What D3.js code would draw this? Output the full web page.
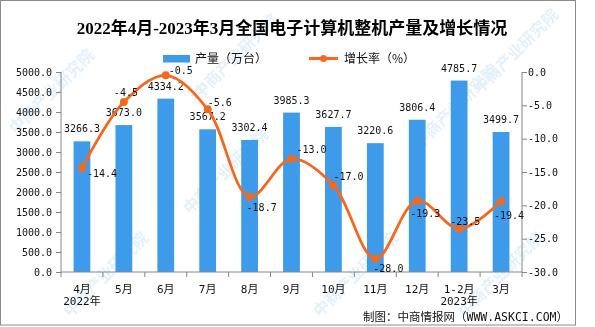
<!DOCTYPE html>
<html><head><meta charset="utf-8">
<script src="https://cdn.jsdelivr.net/npm/d3@7"></script>
<style>
html,body{margin:0;padding:0;background:#fff;}
svg{display:block;}
</style></head>
<body><svg id="c" width="595" height="327"></svg>
<script>
const categories = ["4月","5月","6月","7月","8月","9月","10月","11月","12月","1-2月","3月"];
const yearLabels = ["2022年","","","","","","","","","2023年",""];
const output = [3266.3,3673.0,4334.2,3567.2,3302.4,3985.3,3627.7,3220.6,3806.4,4785.7,3499.7];
const growth = [-14.4,-4.5,-0.5,-5.6,-18.7,-13.0,-17.0,-28.0,-19.3,-23.5,-19.4];
const leftTicks = [0,500,1000,1500,2000,2500,3000,3500,4000,4500,5000];
const rightTicks = [0,-5,-10,-15,-20,-25,-30];
// label offsets (layout only) for growth labels: [dx, dy]
const growthLabelOffsets = [[5,9],[-10,-6],[3,-1],[0,-3],[-3,14],[5,-6],[0,-5],[-2,13],[-7,16],[-9,-4],[-7,18]];

const svg = d3.select("#c");
const mono = "'DejaVu Sans Mono','Noto Sans CJK SC',monospace";
const cjk = "'Noto Sans CJK SC',sans-serif";

// frame
svg.append("rect").attr("x",0.5).attr("y",0.5).attr("width",575).attr("height",324.5)
  .attr("fill","#fff").attr("stroke","#8c8c8c").attr("stroke-width",1);

// watermarks (kept inside the frame)
const wm = svg.append("g").attr("fill","#9ec8ec").attr("opacity",0.28)
  .style("font-family",cjk).style("font-size","16px").style("font-weight","bold");
[[16,135],[70,318],[190,215],[320,318],[420,150],[200,100],[465,318],[480,95]].forEach(p=>{
  wm.append("text").attr("transform",`translate(${p[0]},${p[1]}) rotate(-45)`).text("中商产业研究院");
});

const x = d3.scaleBand().domain(categories).range([61,522]).padding(0);
const yL = d3.scaleLinear().domain([0,5000]).range([272,72]);
const yR = d3.scaleLinear().domain([-30,0]).range([272,72]);
const barW = x.bandwidth()*0.4;
const axisColor = "#868686";

// title
svg.append("text").attr("x",292).attr("y",34).attr("text-anchor","middle")
  .style("font-family","'Liberation Serif','Noto Sans CJK SC',serif").style("font-size","17px").style("font-weight","bold")
  .attr("fill","#000").text("2022年4月-2023年3月全国电子计算机整机产量及增长情况");

// legend
svg.append("rect").attr("x",163).attr("y",55).attr("width",27).attr("height",7.5).attr("fill","#3d9be9");
svg.append("text").attr("x",195).attr("y",63).style("font-family",cjk).style("font-size","12px").attr("fill","#111").text("产量（万台）");
svg.append("line").attr("x1",309).attr("x2",338).attr("y1",58.5).attr("y2",58.5).attr("stroke","#f5691f").attr("stroke-width",3);
svg.append("circle").attr("cx",323.5).attr("cy",58.5).attr("r",3.5).attr("fill","#f5691f");
svg.append("text").attr("x",344).attr("y",63).style("font-family",cjk).style("font-size","12px").attr("fill","#111").text("增长率（%）");

// bars
svg.append("g").selectAll("rect").data(output).join("rect")
  .attr("x",(d,i)=>x(categories[i])+x.bandwidth()/2-barW/2)
  .attr("y",d=>yL(d)).attr("width",barW).attr("height",d=>yL(0)-yL(d))
  .attr("fill","#3d9be9");

// bar labels
svg.append("g").selectAll("text").data(output).join("text")
  .attr("x",(d,i)=>x(categories[i])+x.bandwidth()/2)
  .attr("y",d=>yL(d)-9).attr("text-anchor","middle")
  .style("font-family",mono).style("font-size","10px").attr("fill","#111")
  .text(d=>d.toFixed(1));

// left axis
const gL = svg.append("g").attr("transform","translate(61,0)")
  .call(d3.axisLeft(yL).tickValues(leftTicks).tickFormat(d=>d.toFixed(1)).tickSize(5).tickPadding(4));
// right axis
const gR = svg.append("g").attr("transform","translate(522,0)")
  .call(d3.axisRight(yR).tickValues(rightTicks).tickFormat(d=>d.toFixed(1)).tickSize(5).tickPadding(1));
// bottom axis
const gB = svg.append("g").attr("transform","translate(0,272)")
  .call(d3.axisBottom(x).tickSize(0).tickFormat(""));
gB.selectAll(".tick").remove();
const bounds = categories.map(c=>x(c)).concat([x(categories[categories.length-1])+x.bandwidth()]);
gB.selectAll("line.bt").data(bounds).join("line").attr("class","bt")
  .attr("x1",d=>d).attr("x2",d=>d).attr("y1",0).attr("y2",5).attr("stroke",axisColor);

[gL,gR,gB].forEach(g=>{
  g.selectAll(".domain").attr("stroke",axisColor);
  g.selectAll(".tick line").attr("stroke",axisColor);
  g.selectAll(".tick text").style("font-family",mono).style("font-size","10px").attr("fill","#111");
});
gL.select(".domain").attr("d","M0,72V272");
gR.select(".domain").attr("d","M0,72V272");
gB.select(".domain").attr("d","M61,0H522");

// x labels
const xl = svg.append("g").style("font-family",mono).style("font-size","11px").attr("fill","#111").attr("text-anchor","middle");
xl.selectAll("text.cat").data(categories).join("text").attr("class","cat")
  .attr("x",d=>x(d)+x.bandwidth()/2).attr("y",293).text(d=>d);
xl.selectAll("text.yr").data(yearLabels).join("text").attr("class","yr")
  .attr("x",(d,i)=>x(categories[i])+x.bandwidth()/2).attr("y",305).text(d=>d);

// line
const pts = growth.map((d,i)=>[x(categories[i])+x.bandwidth()/2, yR(d)]);
svg.append("path").attr("d",d3.line().curve(d3.curveCatmullRom.alpha(0.5))(pts))
  .attr("fill","none").attr("stroke","#f5691f").attr("stroke-width",2.8);
svg.append("g").selectAll("circle").data(pts).join("circle")
  .attr("cx",d=>d[0]).attr("cy",d=>d[1]).attr("r",4).attr("fill","#f5691f");
svg.append("g").selectAll("text").data(growth).join("text")
  .attr("x",(d,i)=>pts[i][0]+growthLabelOffsets[i][0])
  .attr("y",(d,i)=>pts[i][1]+growthLabelOffsets[i][1])
  .style("font-family",mono).style("font-size","10px").attr("fill","#111")
  .text(d=>d.toFixed(1));

// footer
svg.append("text").attr("x",568).attr("y",321).attr("text-anchor","end")
  .style("font-family",mono).style("font-size","11.5px").attr("fill","#111")
  .text("制图：中商情报网（WWW.ASKCI.COM）");
</script></body></html>
